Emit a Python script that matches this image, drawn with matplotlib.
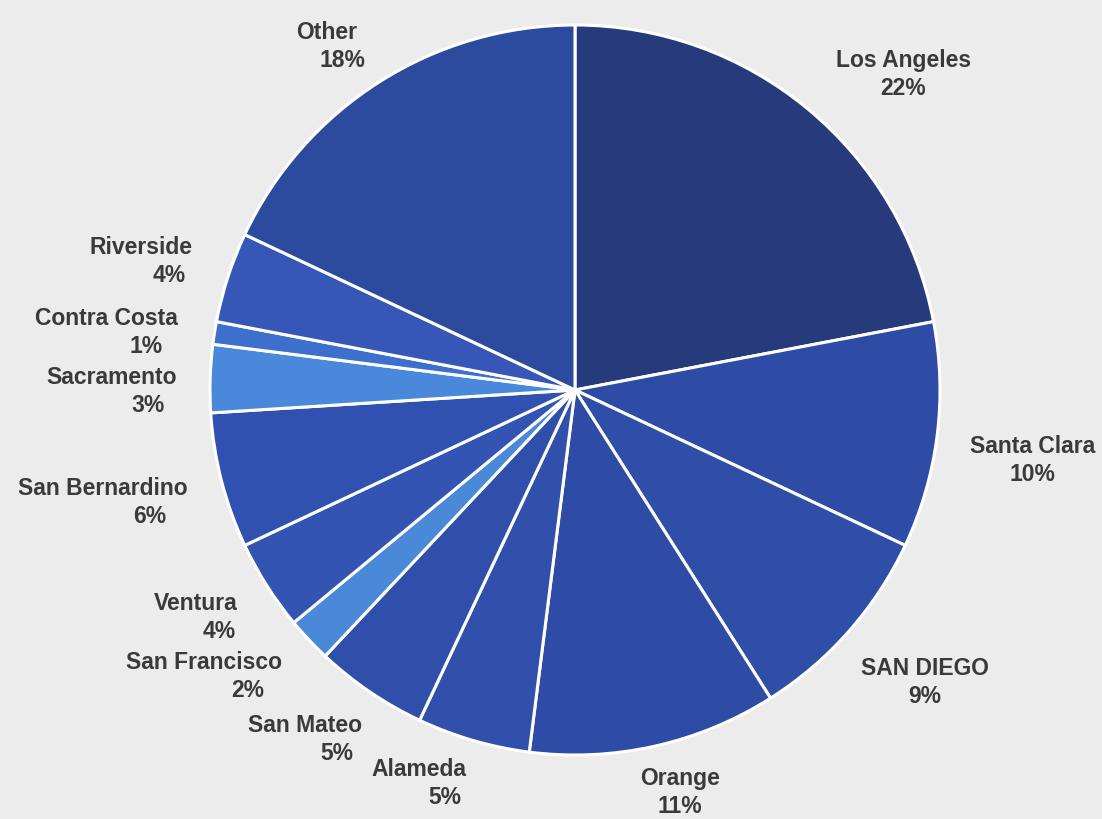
import numpy as np
import matplotlib.pyplot as plt

# county shares, clockwise from 12 o'clock
counties = ["Los Angeles", "Santa Clara", "SAN DIEGO", "Orange", "Alameda",
            "San Mateo", "San Francisco", "Ventura", "San Bernardino",
            "Sacramento", "Contra Costa", "Riverside", "Other"]
shares = [22, 10, 9, 11, 5, 5, 2, 4, 6, 3, 1, 4, 18]
colors = ["#273a7c", "#2e4ca6", "#2f4ea8", "#2e4ca6", "#3050ac",
          "#2f4fab", "#4a88d8", "#3454b4", "#3151b0", "#4a88dc",
          "#3d6fcc", "#3656b8", "#2c4a9e"]
# small angular nudges (deg) so neighbouring labels don't collide
label_nudge = [-6.5, -1.5, 1.5, 2, -5.5, -3.5, -5.5, -1.5, -1, 2, 2, 1.5, 3.5]

W, H = 1102, 819
cx, cy, R = 575, 390, 365  # pie centre / radius in px

fig = plt.figure(figsize=(W / 100, H / 100), dpi=100)
fig.patch.set_facecolor("#ececec")
ax = fig.add_axes([0, 0, 1, 1])
ax.set_facecolor("#ececec")

wedges, _ = ax.pie(shares, colors=colors, startangle=90, counterclock=False,
                   radius=1.0, wedgeprops=dict(edgecolor="white", linewidth=2.2))
# pie() resets the limits, so put them back: 1 data unit = R px
ax.set_xlim(-cx / R, (W - cx) / R)
ax.set_ylim(-(H - cy) / R, cy / R)
ax.set_aspect("auto")
ax.axis("off")

font = dict(fontsize=16.5, fontweight="bold", color="#3a3a3a",
            family=["Liberation Sans", "DejaVu Sans"])
line = 28 / R  # gap between the two label lines

fig.canvas.draw()
rend = fig.canvas.get_renderer()
for w, name, s, nd in zip(wedges, counties, shares, label_nudge):
    mid = np.deg2rad((w.theta1 + w.theta2) / 2 + nd)
    c, sn = np.cos(mid), np.sin(mid)
    t1 = ax.text(0, 0, name, ha="center", va="center", **font)
    t2 = ax.text(0, 0, f"{s}%", ha="center", va="center", **font)
    bb = t1.get_window_extent(renderer=rend)
    hw = bb.width / 2 / R
    hh = (bb.height / R + line) / 2
    d = 1.09 - 0.05 * sn ** 2 + hw * abs(c) + hh * abs(sn)
    x, y = d * c, d * sn
    # left-hand labels carry the percentage nudged to the right
    shift = 0.55 * hw if c < -0.3 else 0.0
    t1.set_position((x, y + line / 2))
    t2.set_position((x + shift, y - line / 2))

fig.savefig("out.png", dpi=100, facecolor=fig.get_facecolor())
